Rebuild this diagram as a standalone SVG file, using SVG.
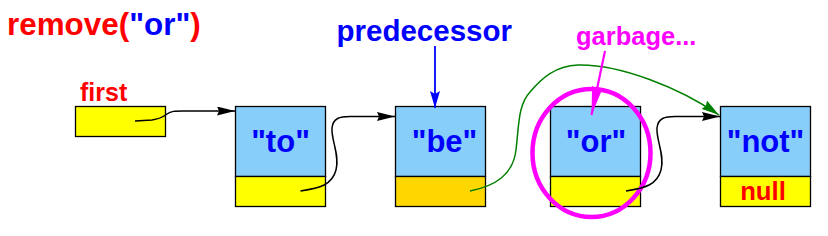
<svg xmlns="http://www.w3.org/2000/svg" width="828" height="236" viewBox="0 0 828 236">
<style>
text{font-family:"Liberation Sans",Arial,Helvetica,sans-serif;font-weight:bold}
.red{fill:#ff0000}
.blue{fill:#0000ff}
.mag{fill:#ff00ff}
.val{fill:#87cefa;stroke:#000;stroke-width:1.3}
.nxt{fill:#ffff00;stroke:#000;stroke-width:1.3}
.lbl{font-size:31px;fill:#0000ff;text-anchor:middle}
.wire{fill:none;stroke:#000;stroke-width:1.5}
</style>
<defs>
<marker id="ahBlack" markerUnits="userSpaceOnUse" markerWidth="18" markerHeight="9" refX="18" refY="4.5" orient="auto">
<path d="M0,0 L18,4.5 L0,9 L2,4.5 z" fill="#000"/>
</marker>
<marker id="ahGreen" markerUnits="userSpaceOnUse" markerWidth="18" markerHeight="10" refX="18" refY="5" orient="auto">
<path d="M0,0 L18,5 L0,10 L2,5 z" fill="#008000"/>
</marker>
<marker id="ahBlue" markerUnits="userSpaceOnUse" markerWidth="17" markerHeight="10" refX="17" refY="5" orient="auto">
<path d="M0,0 L17,5 L0,10 L3,5 z" fill="#0000ff"/>
</marker>
<marker id="ahMag" markerUnits="userSpaceOnUse" markerWidth="29" markerHeight="11" refX="29" refY="5.5" orient="auto">
<path d="M0,0 L29,5.5 L0,11 L3,5.5 z" fill="#ff00ff"/>
</marker>
</defs>

<g id="title">
<text x="7" y="34.5" font-size="31.4"><tspan class="red">remove(</tspan><tspan class="blue">"or"</tspan><tspan class="red">)</tspan></text>
</g>

<g id="first">
<text class="red" x="80" y="100.5" font-size="25">first</text>
<rect x="75.5" y="106.5" width="90" height="30" class="nxt"/>
</g>

<g id="node-to">
<rect x="235.5" y="106.5" width="90" height="70" class="val"/>
<rect x="235.5" y="176.5" width="90" height="30" class="nxt"/>
<text class="lbl" x="280.5" y="151.5">"to"</text>
</g>

<g id="node-be">
<rect x="395.5" y="106.5" width="90" height="70" class="val"/>
<rect x="395.5" y="176.5" width="90" height="30" class="nxt" style="fill:#ffd700"/>
<text class="lbl" x="444.5" y="151.5">"be"</text>
</g>

<g id="node-or">
<rect x="550.5" y="106.5" width="90" height="70" class="val"/>
<rect x="550.5" y="176.5" width="90" height="30" class="nxt"/>
<text class="lbl" x="596" y="151.5">"or"</text>
</g>

<g id="node-not">
<rect x="720.5" y="106.5" width="90" height="70" class="val"/>
<rect x="720.5" y="176.5" width="90" height="30" class="nxt"/>
<text class="lbl" x="765.5" y="151.5">"not"</text>
<text class="red" x="763" y="200" font-size="25.7" text-anchor="middle">null</text>
</g>

<g id="predecessor">
<text class="blue" x="336.5" y="40.5" font-size="29.5">predecessor</text>
</g>

<g id="garbage">
<text class="mag" x="576" y="45" font-size="25.5">garbage...</text>
<ellipse cx="591.5" cy="153" rx="59" ry="64" fill="none" stroke="#ff00ff" stroke-width="4.5"/>
</g>

<g id="connectors">
<path class="wire" d="M135,121 L152,120 C160,119 163,117 167,114 C171,111 175,111 183,111 L235,111" marker-end="url(#ahBlack)"/>
<path class="wire" d="M300.5,191 C320,188 332,185 336,170 C340,155 331,140 332,128 C333,118 340,116.5 350,116.5 L395,116.5" marker-end="url(#ahBlack)"/>
<path class="wire" d="M626,191 C645,188 657,185 661,170 C665,155 656,140 657,128 C658,118 665,116.5 675,116.5 L720,116.5" marker-end="url(#ahBlack)"/>
<path d="M470,191 C495,186 513,175 516,150 C519,125 518,105 530,92 C542,78 555,66 578,65 C620,64 680,88 719,115" fill="none" stroke="#008000" stroke-width="1.5" marker-end="url(#ahGreen)"/>
<path d="M435,46 L435,108" fill="none" stroke="#0000ff" stroke-width="1.8" marker-end="url(#ahBlue)"/>
<path d="M605,51 L591.5,115" fill="none" stroke="#ff00ff" stroke-width="2.2" marker-end="url(#ahMag)"/>
</g>
</svg>
